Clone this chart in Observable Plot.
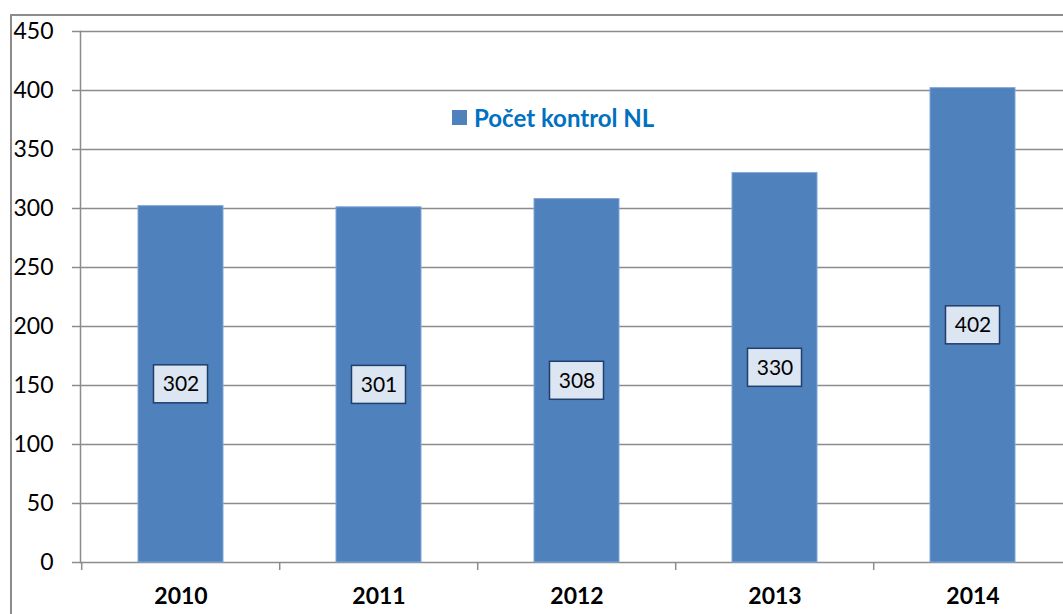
<!DOCTYPE html>
<html><head><meta charset="utf-8">
<script src="https://cdn.jsdelivr.net/npm/d3@7"></script>
<script src="https://cdn.jsdelivr.net/npm/@observablehq/plot@0.6"></script>
<style>
html,body{margin:0;padding:0;background:#fff;overflow:hidden;}
#wrap{position:relative;width:1063px;height:614px;overflow:hidden;font-family:Lato,"Open Sans",sans-serif;}
#frame{position:absolute;left:10px;top:14px;width:2000px;height:2000px;border-left:2px solid #8c8c8c;border-top:2px solid #8c8c8c;box-sizing:border-box;pointer-events:none;}
#legend{position:absolute;left:452px;top:103px;display:flex;align-items:center;gap:7px;color:#0070c0;font-weight:bold;font-size:24px;white-space:nowrap;}
#legend span.sw{display:inline-block;width:15px;height:15px;background:#4f81bd;}
#wrap svg{position:absolute;left:0;top:0;max-width:none !important;width:1073px;height:614px;}
</style></head>
<body>
<div id="wrap"><div id="frame"></div><div id="legend"><span class="sw"></span><span>Počet kontrol NL</span></div></div>
<script>
const years = ["2010","2011","2012","2013","2014"];
const values = [302, 301, 308, 330, 402];
const yTicks = [0,50,100,150,200,250,300,350,400,450];
const seriesName = "Počet kontrol NL";

const data = years.map((y,i)=>({year:y, value:values[i], mid:values[i]/2}));

const chart = Plot.plot({
  width: 1073,
  height: 614,
  marginLeft: 80,
  marginRight: 0,
  marginTop: 31,
  marginBottom: 52,
  style: {fontFamily: "Lato, 'Open Sans', sans-serif", background: "transparent", overflow: "visible", maxWidth: "none"},
  x: {domain: years, paddingInner: 0.572, paddingOuter: 0.286, label: null},
  y: {domain: [0,450], label: null},
  marks: [
    Plot.gridY(yTicks, {stroke: "#8c8c8c", strokeOpacity: 1, strokeWidth: 1.5}),
    Plot.frame({anchor: "left", stroke: "#8c8c8c", strokeWidth: 1.5}),
    Plot.axisY(yTicks, {tickSize: 8, tickPadding: 19, stroke: "#8c8c8c", strokeWidth: 1.5, fontSize: 23, fill: "#000", label: null}),
    Plot.axisX({tickSize: 8, dx: -99.3, text: null, stroke: "#8c8c8c", strokeWidth: 1.5, label: null}),
    Plot.axisX({tickSize: 0, tickPadding: 25, fontSize: 23, fontWeight: "bold", fill: "#000", label: null}),
    Plot.barY(data, {x: "year", y: "value", fill: "#4f81bd", stroke: "#7fa6d6", strokeWidth: 1}),
    Plot.barY(data, {x: "year", y1: "mid", y2: "mid", insetTop: -19, insetBottom: -19, insetLeft: 15.5, insetRight: 15.5, fill: "#dce6f2", stroke: "#1f3f6d", strokeWidth: 1.5}),
    Plot.text(data, {x: "year", y: "mid", text: d => String(d.value), fontSize: 21, fill: "#000"})
  ]
});
document.getElementById("wrap").insertBefore(chart, document.getElementById("frame"));
</script>
</body></html>
